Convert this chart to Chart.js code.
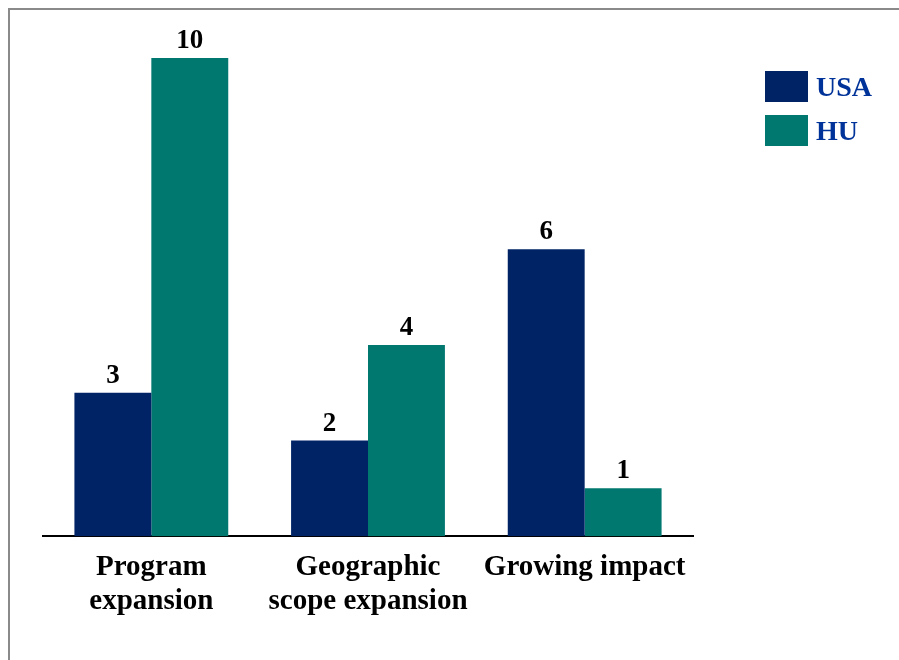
<!DOCTYPE html>
<html>
<head>
<meta charset="utf-8">
<script src="https://cdn.jsdelivr.net/npm/chart.js@4/dist/chart.umd.min.js"></script>
<style>
  html, body { margin: 0; padding: 0; background: #fff; }
  #wrap { position: relative; width: 899px; height: 660px; }
  #frame {
    position: absolute; left: 8px; top: 8px; right: 0; bottom: 0;
    border-left: 2px solid #8a8a8a; border-top: 2px solid #8a8a8a;
    pointer-events: none;
  }
  canvas { position: absolute; left: 0; top: 0; }
</style>
</head>
<body>
<div id="wrap">
  <canvas id="chart" width="899" height="660"></canvas>
  <div id="frame"></div>
</div>
<script>
const categories = [['Program', 'expansion'], ['Geographic', 'scope expansion'], ['Growing impact']];
const usaValues = [3, 2, 6];
const huValues = [10, 4, 1];
const seriesNames = ['USA', 'HU'];
const seriesColors = ['#002366', '#00776F'];

const SERIF = "'Liberation Serif', 'Times New Roman', serif";

// numbers above each bar
const valueLabels = {
    id: 'valueLabels',
    afterDatasetsDraw(chart) {
        const ctx = chart.ctx;
        ctx.save();
        ctx.font = `bold 27px ${SERIF}`;
        ctx.fillStyle = '#000';
        ctx.textAlign = 'center';
        ctx.textBaseline = 'alphabetic';
        chart.data.datasets.forEach((ds, i) => {
            chart.getDatasetMeta(i).data.forEach((bar, j) => {
                ctx.fillText(String(ds.data[j]), bar.x, bar.y - 10);
            });
        });
        ctx.restore();
    }
};

// legend block on the right side
const sideLegend = {
    id: 'sideLegend',
    afterDraw(chart) {
        const ctx = chart.ctx;
        const x = 765, y0 = 71, boxW = 43, boxH = 31, step = 44;
        ctx.save();
        ctx.font = `bold 28px ${SERIF}`;
        ctx.textBaseline = 'middle';
        ctx.textAlign = 'left';
        chart.data.datasets.forEach((ds, i) => {
            const y = y0 + i * step;
            ctx.fillStyle = ds.backgroundColor;
            ctx.fillRect(x, y, boxW, boxH);
            ctx.fillStyle = '#003399';
            ctx.fillText(ds.label, x + boxW + 8, y + boxH / 2 + 2);
        });
        ctx.restore();
    }
};

new Chart(document.getElementById('chart').getContext('2d'), {
    type: 'bar',
    data: {
        labels: categories,
        datasets: [
            { label: seriesNames[0], data: usaValues, backgroundColor: seriesColors[0] },
            { label: seriesNames[1], data: huValues, backgroundColor: seriesColors[1] }
        ]
    },
    options: {
        responsive: false,
        animation: false,
        layout: { padding: { left: 43, right: 206, top: 58, bottom: 28 } },
        datasets: { bar: { categoryPercentage: 0.71, barPercentage: 1.0 } },
        plugins: {
            legend: { display: false },
            tooltip: { enabled: false }
        },
        scales: {
            x: {
                grid: { display: false, drawTicks: false },
                border: { display: true, color: '#000', width: 2 },
                ticks: {
                    color: '#000',
                    padding: 14,
                    maxRotation: 0,
                    autoSkip: false,
                    font: { family: SERIF, size: 29, weight: 'bold', lineHeight: 1.17 }
                }
            },
            y: {
                display: false,
                min: 0,
                max: 10
            }
        }
    },
    plugins: [valueLabels, sideLegend]
});
</script>
</body>
</html>
